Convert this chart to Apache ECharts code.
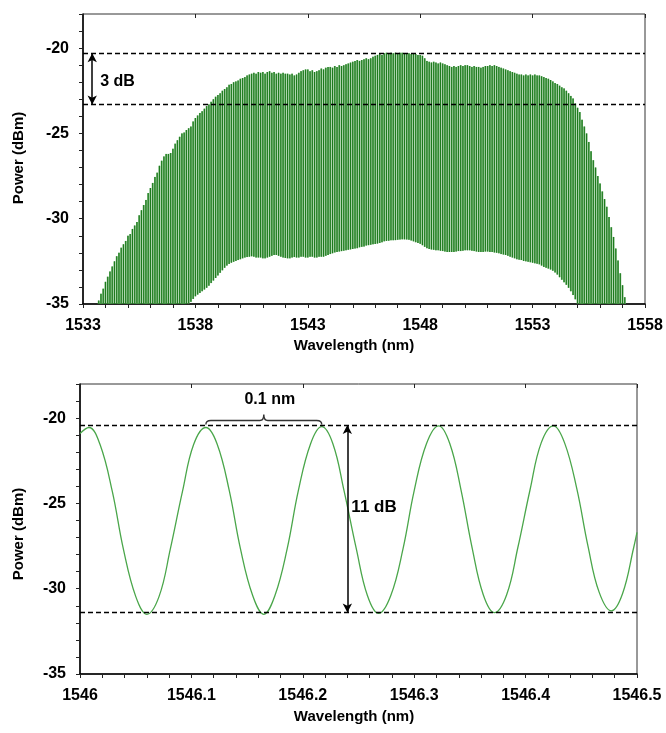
<!DOCTYPE html>
<html>
<head>
<meta charset="utf-8">
<title>Comb spectrum</title>
<script src="https://cdn.jsdelivr.net/npm/echarts@6/dist/echarts.min.js"></script>
<style>
  html, body { margin: 0; padding: 0; background: #fff; }
  #chart { width: 666px; height: 733px; }
</style>
</head>
<body>
<div id="chart"></div>
<script>
// ---- Broadband comb (upper panel) ----
// Comb lines sit on a 0.1 nm grid starting at 1533.7 nm.
const combStart = 1533.7;
const combSpacing = 0.1;
// Peak power of each comb line (dBm), 1533.7 ... 1557.1 nm
const combPeaks = [
  -34.8, -34.4, -34.1, -33.7, -33.4, -33.1, -32.8, -32.5, -32.2, -32.0,
  -31.7, -31.5, -31.3, -31.0, -30.9, -30.6, -30.4, -30.2, -29.8, -29.5,
  -29.2, -28.9, -28.5, -28.2, -27.9, -27.55, -27.3, -26.9, -26.6, -26.35,
  -26.2, -26.2, -26.15, -25.9, -25.6, -25.4, -25.2, -25.0, -24.95, -24.8,
  -24.7, -24.6, -24.3, -24.1, -23.95, -23.8, -23.7, -23.55, -23.4, -23.3,
  -23.15, -23.0, -22.85, -22.75, -22.65, -22.5, -22.4, -22.3, -22.15, -22.1,
  -22.0, -21.95, -21.9, -21.8, -21.75, -21.7, -21.6, -21.55, -21.5, -21.45,
  -21.5, -21.4, -21.45, -21.4, -21.5, -21.4, -21.35, -21.45, -21.4, -21.5,
  -21.45, -21.5, -21.45, -21.5, -21.5, -21.55, -21.5, -21.6, -21.55, -21.45,
  -21.35, -21.3, -21.25, -21.25, -21.35, -21.3, -21.4, -21.35, -21.3, -21.2,
  -21.25, -21.15, -21.1, -21.1, -21.15, -21.05, -21.1, -21.0, -21.05, -21.0,
  -20.95, -20.9, -20.85, -20.8, -20.75, -20.7, -20.75, -20.7, -20.65, -20.6,
  -20.65, -20.6, -20.5, -20.45, -20.4, -20.35, -20.4, -20.3, -20.27, -20.3,
  -20.27, -20.3, -20.27, -20.3, -20.27, -20.27, -20.3, -20.35, -20.3, -20.35,
  -20.3, -20.35, -20.4, -20.4, -20.45, -20.6, -20.75, -20.8, -20.85, -20.8,
  -20.85, -20.9, -20.85, -20.9, -20.95, -21.0, -21.05, -21.1, -21.05, -21.1,
  -21.05, -21.0, -21.05, -21.0, -21.0, -21.05, -21.1, -21.05, -21.1, -21.1,
  -21.15, -21.1, -21.05, -21.05, -21.0, -21.05, -21.0, -21.05, -21.1, -21.15,
  -21.2, -21.25, -21.3, -21.35, -21.4, -21.45, -21.5, -21.55, -21.55, -21.6,
  -21.55, -21.6, -21.55, -21.6, -21.55, -21.6, -21.6, -21.65, -21.7, -21.75,
  -21.8, -21.87, -21.95, -22.05, -22.1, -22.2, -22.3, -22.36, -22.5, -22.65,
  -22.8, -22.95, -23.25, -23.5, -23.75, -24.2, -24.6, -25.0, -25.5, -26.05,
  -26.57, -27.0, -27.5, -27.93, -28.4, -28.85, -29.3, -29.9, -30.5, -31.07,
  -31.75, -32.45, -33.2, -33.9, -34.6
];
// Minimum between neighbouring lines (dBm): one before the first line,
// one between each pair of lines, one after the last line.
const combTroughs = [
  -40.4,
  -40.2, -40.0, -39.9, -39.7, -39.6, -39.4, -39.3, -39.2, -39.0, -38.9,
  -38.8, -38.6, -38.5, -38.4, -38.2, -38.1, -38.0, -37.8, -37.7, -37.6,
  -37.4, -37.3, -37.2, -37.0, -36.9, -36.8, -36.6, -36.5, -36.4, -36.2,
  -36.1, -36.0, -35.8, -35.7, -35.6, -35.4, -35.3, -35.2, -35.1, -35.0,
  -34.95, -34.8, -34.6, -34.5, -34.4, -34.3, -34.2, -34.1, -34.0, -33.85,
  -33.7, -33.55, -33.4, -33.25, -33.1, -32.95, -32.8, -32.7, -32.6, -32.55,
  -32.5, -32.45, -32.4, -32.35, -32.3, -32.25, -32.25, -32.2, -32.2, -32.25,
  -32.3, -32.25, -32.3, -32.35, -32.3, -32.25, -32.2, -32.15, -32.1, -32.15,
  -32.2, -32.25, -32.3, -32.3, -32.35, -32.3, -32.25, -32.25, -32.3, -32.25,
  -32.2, -32.25, -32.3, -32.25, -32.2, -32.25, -32.3, -32.25, -32.2, -32.25,
  -32.2, -32.15, -32.1, -32.05, -32.0, -31.95, -31.95, -31.9, -31.9, -31.85,
  -31.85, -31.8, -31.8, -31.75, -31.75, -31.7, -31.65, -31.65, -31.6, -31.55,
  -31.55, -31.5, -31.5, -31.46, -31.45, -31.4, -31.35, -31.3, -31.3, -31.28,
  -31.26, -31.26, -31.25, -31.22, -31.22, -31.2, -31.22, -31.22, -31.25, -31.3,
  -31.35, -31.4, -31.45, -31.5, -31.6, -31.7, -31.75, -31.8, -31.8, -31.85,
  -31.85, -31.85, -31.9, -31.9, -31.95, -31.95, -31.95, -31.95, -31.95, -31.9,
  -31.9, -31.9, -31.85, -31.85, -31.85, -31.85, -31.9, -31.9, -31.95, -31.95,
  -31.95, -31.95, -31.9, -31.95, -31.95, -31.95, -32.0, -32.0, -32.05, -32.1,
  -32.1, -32.15, -32.2, -32.25, -32.3, -32.35, -32.4, -32.4, -32.45, -32.5,
  -32.5, -32.55, -32.55, -32.6, -32.63, -32.65, -32.7, -32.8, -32.85, -32.9,
  -32.95, -33.0, -33.1, -33.2, -33.35, -33.5, -33.65, -33.8, -33.95, -34.15,
  -34.35, -34.6, -34.85, -35.1, -35.35, -35.6, -35.85, -36.1, -36.35, -36.6,
  -36.85, -37.1, -37.35, -37.6, -37.85, -38.1, -38.35, -38.6, -38.85, -39.1,
  -39.35, -39.6, -39.85, -40.1,
  -40.3
];

// ---- Zoomed view of five comb lines (lower panel) ----
const fineWavelength = [
  1546.000, 1546.008, 1546.018, 1546.029, 1546.039, 1546.050, 1546.060, 1546.071, 1546.081, 1546.092,
  1546.102, 1546.113, 1546.123, 1546.134, 1546.144, 1546.155, 1546.165, 1546.175, 1546.186, 1546.196,
  1546.207, 1546.217, 1546.227, 1546.237, 1546.248, 1546.258, 1546.268, 1546.279, 1546.290, 1546.300,
  1546.311, 1546.322, 1546.332, 1546.342, 1546.352, 1546.362, 1546.372, 1546.383, 1546.393, 1546.404,
  1546.414, 1546.425, 1546.435, 1546.446, 1546.456, 1546.466, 1546.477, 1546.487, 1546.497, 1546.500
];
const finePower = [
  -20.9, -20.55, -21.55, -24.3, -27.7, -30.45, -31.5, -30.45, -27.7, -24.3,
  -21.55, -20.55, -21.5, -24.25, -27.65, -30.4, -31.5, -30.4, -27.65, -24.25,
  -21.5, -20.5, -21.5, -24.25, -27.65, -30.4, -31.45, -30.4, -27.65, -24.25,
  -21.5, -20.45, -21.5, -24.2, -27.6, -30.35, -31.4, -30.35, -27.6, -24.2,
  -21.45, -20.45, -21.45, -24.15, -27.5, -30.2, -31.3, -30.3, -27.6, -26.7
];

// Reference levels drawn as dashed lines
const flatTopLevels = [-20.3, -23.3];      // 3 dB flatness window
const extinctionLevels = [-20.4, -31.4];   // 11 dB peak-to-valley
// Annotation anchors
const flatArrowWavelength = 1533.41;
const extinctionArrowWavelength = 1546.24;
const spacingBracePeaks = [1546.113, 1546.217];

// Tick label lists
const wideTicks = [1533, 1538, 1543, 1548, 1553, 1558];
const fineTicks = [1546, 1546.1, 1546.2, 1546.3, 1546.4, 1546.5];
const powerTicks = [-35, -30, -25, -20];

// One item per comb line: [wavelength, floor under the line, peak]
const combLines = combPeaks.map((peak, k) => [
  +(combStart + k * combSpacing).toFixed(3),
  (combTroughs[k] + combTroughs[k + 1]) / 2,
  peak
]);

const fineTrace = fineWavelength.map((w, i) => [w, finePower[i]]);

const FONT = '"Liberation Sans", Arial, sans-serif';
const BLACK = '#000';

function powerAxis(gridIndex) {
  return {
    type: 'value', gridIndex, min: -35, max: -18, interval: 1,
    axisLine: { show: true, lineStyle: { color: BLACK, width: 1.5 } },
    axisTick: { show: true, length: 4, lineStyle: { color: '#222' } },
    axisLabel: {
      interval: 0, margin: 14, color: BLACK, fontFamily: FONT, fontWeight: 'bold', fontSize: 16,
      formatter: v => (powerTicks.indexOf(Math.round(v)) >= 0 && Math.abs(v - Math.round(v)) < 1e-6) ? String(Math.round(v)) : ''
    },
    splitLine: { show: false }
  };
}

function isTick(list, v) {
  return list.some(t => Math.abs(t - v) < 1e-6);
}

// Each comb line: a pale band one grid step wide with a dark core line.
function renderCombLine(params, api) {
  const cs = params.coordSys;
  const floorY = cs.y + cs.height;
  const top = api.coord([api.value(0), api.value(2)]);
  const lowY = Math.min(api.coord([api.value(0), api.value(1)])[1], floorY);
  const half = api.size([combSpacing * 0.42, 0])[0];
  return {
    type: 'group',
    children: [
      { type: 'rect', shape: { x: top[0] - half, y: top[1], width: half * 2, height: lowY - top[1] },
        style: { fill: '#6db26d' } },
      { type: 'line', shape: { x1: top[0], y1: top[1], x2: top[0], y2: lowY },
        style: { stroke: '#1d7a1d', lineWidth: 1.1 } }
    ]
  };
}

const option = {
  animation: false,
  backgroundColor: '#fff',
  grid: [
    { left: 83, right: 21, top: 14, height: 290, show: true, borderColor: '#333', borderWidth: 1 },
    { left: 80, right: 29, top: 384, height: 290, show: true, borderColor: '#333', borderWidth: 1 }
  ],
  xAxis: [
    {
      type: 'value', gridIndex: 0, min: 1533, max: 1558, interval: 1,
      axisLine: { show: true, onZero: false, lineStyle: { color: BLACK, width: 1.5 } },
      axisTick: { show: true, length: 4, lineStyle: { color: '#222' } },
      axisLabel: {
        interval: 0, margin: 14, color: BLACK, fontFamily: FONT, fontWeight: 'bold', fontSize: 16,
        formatter: v => isTick(wideTicks, v) ? String(Math.round(v)) : ''
      },
      splitLine: { show: false }
    },
    {
      type: 'value', gridIndex: 1, min: 1546, max: 1546.5, interval: 0.02,
      axisLine: { show: true, onZero: false, lineStyle: { color: BLACK, width: 1.5 } },
      axisTick: { show: true, length: 4, lineStyle: { color: '#222' } },
      axisLabel: {
        interval: 0, margin: 14, color: BLACK, fontFamily: FONT, fontWeight: 'bold', fontSize: 16,
        formatter: v => isTick(fineTicks, v) ? String(+v.toFixed(1)) : ''
      },
      splitLine: { show: false }
    },
    // inner half of the major ticks, so they cross the axis line
    {
      type: 'value', gridIndex: 0, min: 1533, max: 1558, interval: 1,
      axisLine: { show: false, onZero: false },
      axisTick: { show: true, inside: true, length: 4, customValues: wideTicks, lineStyle: { color: '#222' } },
      axisLabel: { show: false }, splitLine: { show: false }
    },
    {
      type: 'value', gridIndex: 1, min: 1546, max: 1546.5, interval: 0.02,
      axisLine: { show: false, onZero: false },
      axisTick: { show: true, inside: true, length: 4, customValues: fineTicks, lineStyle: { color: '#222' } },
      axisLabel: { show: false }, splitLine: { show: false }
    }
  ],
  yAxis: [powerAxis(0), powerAxis(1)],
  series: [
    {
      name: 'comb',
      type: 'custom', xAxisIndex: 0, yAxisIndex: 0, silent: true,
      data: combLines,
      encode: { x: 0, y: [1, 2] },
      renderItem: renderCombLine,
      markLine: {
        silent: true, symbol: ['none', 'none'], animation: false,
        label: { show: false },
        lineStyle: { color: BLACK, width: 1.4, type: [5, 3] },
        data: [
          { yAxis: flatTopLevels[0] },
          { yAxis: flatTopLevels[1] },
          [
            { coord: [flatArrowWavelength, flatTopLevels[0]], symbol: 'arrow', symbolSize: [7, 9], lineStyle: { type: 'solid', width: 1.5 } },
            { coord: [flatArrowWavelength, flatTopLevels[1]], symbol: 'arrow', symbolSize: [7, 9] }
          ]
        ]
      },
      markPoint: {
        silent: true, symbol: 'circle', symbolSize: 0,
        label: { show: true, position: 'right', distance: 8, color: BLACK, fontFamily: FONT, fontWeight: 'bold', fontSize: 16 },
        data: [{ coord: [flatArrowWavelength, (flatTopLevels[0] + flatTopLevels[1]) / 2 - 0.15], label: { formatter: '3 dB' } }]
      }
    },
    {
      name: 'zoom',
      type: 'line', xAxisIndex: 1, yAxisIndex: 1,
      data: fineTrace, symbol: 'none', smooth: 0.4, clip: true,
      lineStyle: { color: '#4aa64a', width: 1.3 },
      markLine: {
        silent: true, symbol: ['none', 'none'], animation: false,
        label: { show: false },
        lineStyle: { color: BLACK, width: 1.4, type: [5, 3] },
        data: [
          { yAxis: extinctionLevels[0] },
          { yAxis: extinctionLevels[1] },
          [
            { coord: [extinctionArrowWavelength, extinctionLevels[0]], symbol: 'arrow', symbolSize: [7, 9], lineStyle: { type: 'solid', width: 1.5 } },
            { coord: [extinctionArrowWavelength, extinctionLevels[1]], symbol: 'arrow', symbolSize: [7, 9] }
          ]
        ]
      },
      markPoint: {
        silent: true, symbol: 'circle', symbolSize: 0,
        label: { show: true, position: 'right', distance: 4, color: BLACK, fontFamily: FONT, fontWeight: 'bold', fontSize: 17 },
        data: [{ coord: [extinctionArrowWavelength, -25.2], label: { formatter: '11 dB' } }]
      }
    },
    {
      // curly brace marking the 0.1 nm line spacing
      name: 'spacing',
      type: 'custom', xAxisIndex: 1, yAxisIndex: 1, silent: true, clip: false,
      data: [[spacingBracePeaks[0], spacingBracePeaks[1], extinctionLevels[0]]],
      renderItem: function (params, api) {
        const a = api.coord([api.value(0), api.value(2)]);
        const b = api.coord([api.value(1), api.value(2)]);
        const y0 = a[1] - 0.5, y1 = y0 - 4, xm = (a[0] + b[0]) / 2;
        const d = 'M' + a[0] + ' ' + y0 +
          ' Q' + a[0] + ' ' + y1 + ' ' + (a[0] + 5) + ' ' + y1 +
          ' L' + (xm - 4) + ' ' + y1 +
          ' Q' + xm + ' ' + y1 + ' ' + xm + ' ' + (y1 - 6) +
          ' Q' + xm + ' ' + y1 + ' ' + (xm + 4) + ' ' + y1 +
          ' L' + (b[0] - 5) + ' ' + y1 +
          ' Q' + b[0] + ' ' + y1 + ' ' + b[0] + ' ' + y0;
        return {
          type: 'group',
          children: [
            { type: 'path', shape: { pathData: d }, style: { stroke: '#333', fill: null, lineWidth: 1.4 } },
            { type: 'text', x: xm + 6, y: y1 - 21,
              style: { text: '0.1 nm', fill: BLACK, font: 'bold 16px ' + FONT, align: 'center', verticalAlign: 'middle' } }
          ]
        };
      }
    }
  ],
  graphic: [
    { type: 'text', x: 19, y: 158, rotation: Math.PI / 2,
      style: { text: 'Power (dBm)', fill: BLACK, font: 'bold 15px ' + FONT, align: 'center', verticalAlign: 'middle' } },
    { type: 'text', x: 354, y: 346,
      style: { text: 'Wavelength (nm)', fill: BLACK, font: 'bold 15px ' + FONT, align: 'center', verticalAlign: 'middle' } },
    { type: 'text', x: 19, y: 534, rotation: Math.PI / 2,
      style: { text: 'Power (dBm)', fill: BLACK, font: 'bold 15px ' + FONT, align: 'center', verticalAlign: 'middle' } },
    { type: 'text', x: 354, y: 717,
      style: { text: 'Wavelength (nm)', fill: BLACK, font: 'bold 15px ' + FONT, align: 'center', verticalAlign: 'middle' } }
  ]
};

const chart = echarts.init(document.getElementById('chart'), null, { renderer: 'canvas' });
chart.setOption(option);
</script>
</body>
</html>
